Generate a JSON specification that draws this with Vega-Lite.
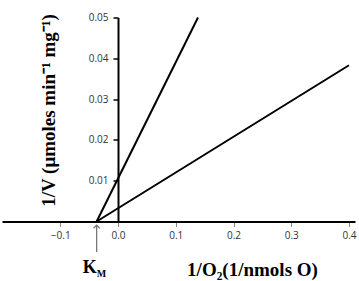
{
  "$schema": "https://vega.github.io/schema/vega-lite/v6.json",
  "autosize": "none",
  "width": 353,
  "height": 204,
  "padding": {"left": 2, "top": 17.5, "right": 4, "bottom": 59.5},
  "background": "white",
  "config": {"view": {"stroke": null}, "axis": {"grid": false}},
  "datasets": {
    "lines": [
      {"series": "A", "x": -0.037, "y": 0},
      {"series": "A", "x": 0.1385, "y": 0.05},
      {"series": "B", "x": -0.037, "y": 0},
      {"series": "B", "x": 0.4, "y": 0.0383}
    ],
    "km": [{"x": -0.037, "K": "K", "M": "M"}]
  },
  "layer": [
    {
      "data": {"name": "lines"},
      "mark": {"type": "line", "color": "black", "strokeWidth": 2},
      "encoding": {
        "x": {
          "field": "x", "type": "quantitative",
          "scale": {"domain": [-0.2009, 0.4104], "nice": false, "zero": false},
          "axis": {
            "values": [-0.1, 0, 0.1, 0.2, 0.3, 0.4], "format": ".1f",
            "domainColor": "black", "domainWidth": 2,
            "tickColor": "#888", "tickSize": 5, "tickWidth": 1,
            "labelFont": "Open Sans", "labelFontSize": 10, "labelColor": "#333",
            "labelPadding": 4, "labelOverlap": false, "labelFlush": false,
            "title": "1/O₂(1/nmols O)", "titleFont": "Liberation Serif", "titleFontSize": 19,
            "titleFontWeight": "bold", "titleColor": "black",
            "titleX": 250, "titleY": 47.5, "titleAlign": "center", "titleBaseline": "middle"
          }
        },
        "y": {
          "field": "y", "type": "quantitative",
          "scale": {"domain": [0, 0.05], "nice": false},
          "axis": {
            "values": [0.01, 0.02, 0.03, 0.04, 0.05], "format": ".2f", "offset": -116,
            "domainColor": "black", "domainWidth": 2,
            "tickColor": "black", "tickSize": 5, "tickWidth": 1.5,
            "labelFont": "Open Sans", "labelFontSize": 10, "labelColor": "#333",
            "labelPadding": 5, "labelOverlap": false, "labelFlush": false,
            "title": "1/V (μmoles min⁻¹ mg⁻¹)", "titleFont": "Liberation Serif", "titleFontSize": 19,
            "titleFontWeight": "bold", "titleColor": "black", "titleAngle": -90,
            "titleX": -70, "titleY": 92.5, "titleAlign": "center", "titleBaseline": "middle"
          }
        },
        "detail": {"field": "series"}
      }
    },
    {
      "data": {"name": "km"},
      "mark": {"type": "rule", "color": "#777", "strokeWidth": 1.3},
      "encoding": {
        "x": {"field": "x", "type": "quantitative"},
        "y": {"datum": -0.0009},
        "y2": {"datum": -0.0075}
      }
    },
    {
      "data": {"name": "km"},
      "mark": {"type": "point", "shape": "M-1,1L0,0L1,1", "filled": false, "size": 40, "color": "#777", "strokeWidth": 1.3, "opacity": 1},
      "encoding": {
        "x": {"field": "x", "type": "quantitative"},
        "y": {"datum": -0.0009}
      }
    },
    {
      "data": {"name": "km"},
      "mark": {"type": "text", "font": "Liberation Serif", "fontWeight": "bold", "fontSize": 18, "align": "right", "baseline": "alphabetic", "color": "black"},
      "encoding": {
        "x": {"field": "x", "type": "quantitative"},
        "y": {"datum": -0.0126},
        "text": {"field": "K"}
      }
    },
    {
      "data": {"name": "km"},
      "mark": {"type": "text", "font": "Liberation Serif", "fontWeight": "bold", "fontSize": 10, "align": "left", "baseline": "alphabetic", "color": "black"},
      "encoding": {
        "x": {"field": "x", "type": "quantitative"},
        "y": {"datum": -0.0136},
        "text": {"field": "M"}
      }
    }
  ]
}
